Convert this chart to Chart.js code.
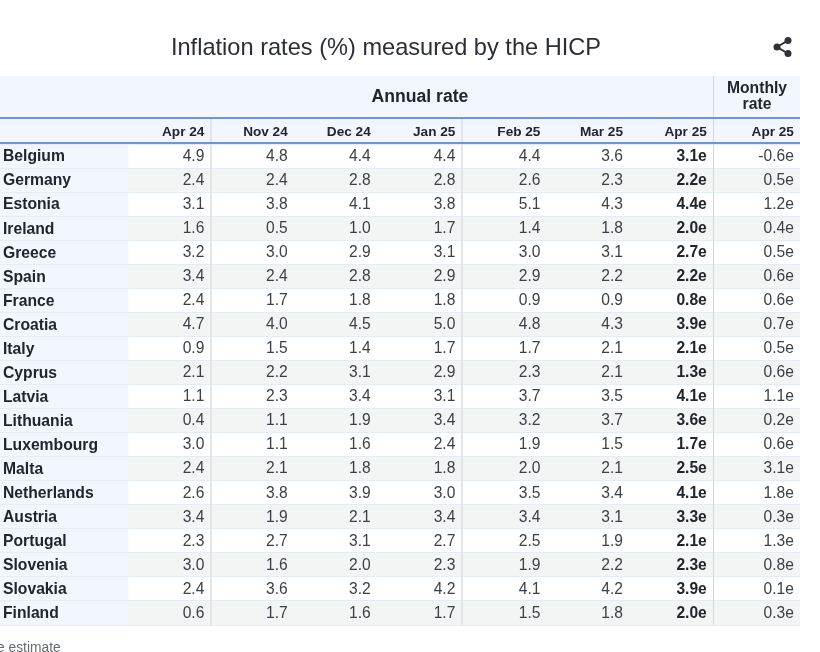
<!DOCTYPE html>
<html><head><meta charset="utf-8">
<style>html,body{margin:0;padding:0;background:#fff}canvas{display:block}</style>
<script src="https://cdn.jsdelivr.net/npm/chart.js@4/dist/chart.umd.min.js"></script>
</head><body><canvas id="c" width="820" height="652" style="width:820px;height:652px"></canvas>
<script>
const countries = ["Belgium","Germany","Estonia","Ireland","Greece","Spain","France","Croatia","Italy","Cyprus","Latvia","Lithuania","Luxembourg","Malta","Netherlands","Austria","Portugal","Slovenia","Slovakia","Finland"];
const columnLabels = ["Apr 24","Nov 24","Dec 24","Jan 25","Feb 25","Mar 25","Apr 25","Apr 25"];
const apr24 = [4.9,2.4,3.1,1.6,3.2,3.4,2.4,4.7,0.9,2.1,1.1,0.4,3.0,2.4,2.6,3.4,2.3,3.0,2.4,0.6];
const nov24 = [4.8,2.4,3.8,0.5,3.0,2.4,1.7,4.0,1.5,2.2,2.3,1.1,1.1,2.1,3.8,1.9,2.7,1.6,3.6,1.7];
const dec24 = [4.4,2.8,4.1,1.0,2.9,2.8,1.8,4.5,1.4,3.1,3.4,1.9,1.6,1.8,3.9,2.1,3.1,2.0,3.2,1.6];
const jan25 = [4.4,2.8,3.8,1.7,3.1,2.9,1.8,5.0,1.7,2.9,3.1,3.4,2.4,1.8,3.0,3.4,2.7,2.3,4.2,1.7];
const feb25 = [4.4,2.6,5.1,1.4,3.0,2.9,0.9,4.8,1.7,2.3,3.7,3.2,1.9,2.0,3.5,3.4,2.5,1.9,4.1,1.5];
const mar25 = [3.6,2.3,4.3,1.8,3.1,2.2,0.9,4.3,2.1,2.1,3.5,3.7,1.5,2.1,3.4,3.1,1.9,2.2,4.2,1.8];
const apr25 = [3.1,2.2,4.4,2.0,2.7,2.2,0.8,3.9,2.1,1.3,4.1,3.6,1.7,2.5,4.1,3.3,2.1,2.3,3.9,2.0];
const monthlyApr25 = [-0.6,0.5,1.2,0.4,0.5,0.6,0.6,0.7,0.5,0.6,1.1,0.2,0.6,3.1,1.8,0.3,1.3,0.8,0.1,0.3];
const columns = [apr24,nov24,dec24,jan25,feb25,mar25,apr25,monthlyApr25];
const estimatedColumns = [6,7];
const boldColumn = 6;

// Layout of the table, in units of the x scale (column right edges)
const slots = [0,1,1.995,3.01,4.03,5.02,6.025,7.07];
const X_MIN = -2.45, X_MAX = 7.143, STUB_END = -0.915;
const SANS = '"Liberation Sans", Arial, sans-serif';

const tablePlugin = {
  id:'table',
  afterLayout(chart){
    // title is centred over the table without the share button
    chart.titleBlock.left = 0; chart.titleBlock.right = 772;
  },
  beforeDatasetsDraw(chart){
    const {ctx,chartArea:a} = chart;
    ctx.save();
    ctx.fillStyle = '#f2f6fe';
    ctx.fillRect(a.left,76,a.right-a.left,a.top-76);
    ctx.restore();
  },
  afterDraw(chart){
    const {ctx,scales:{x,y},chartArea:a} = chart;
    ctx.save();
    // vertical separators
    const sep = (v,top,w,col)=>{ctx.fillStyle=col;ctx.fillRect(Math.round(x.getPixelForValue(v)),top,w,a.bottom-top);};
    sep(0.07,119,2,'#e3e5e8');
    sep(3.08,119,2,'#e3e5e8');
    sep(6.1,76,1,'#d3d6da');
    // blue header rules
    ctx.fillStyle='#7093dc';
    ctx.fillRect(a.left,117,a.right-a.left,2);
    ctx.fillRect(a.left,142,a.right-a.left,2);
    // cells
    ctx.textBaseline='middle'; ctx.textAlign='right';
    columns.forEach((col,c)=>{
      ctx.font=(c===boldColumn?'bold ':'')+'15.6px '+SANS;
      ctx.fillStyle=c===boldColumn?'#22252e':'#3c4048';
      col.forEach((v,r)=>{
        const txt=v.toFixed(1)+(estimatedColumns.includes(c)?'e':'');
        ctx.fillText(txt,x.getPixelForValue(slots[c]),y.getPixelForValue(r)+0.5);
      });
    });
    // group headers
    ctx.textAlign='center'; ctx.fillStyle='#22252e';
    ctx.font='bold 17.6px '+SANS;
    ctx.fillText('Annual rate',420,97);
    ctx.font='bold 15.7px '+SANS;
    ctx.fillText('Monthly',757,88.5);
    ctx.fillText('rate',757,104.5);
    // footnote
    ctx.textAlign='left'; ctx.fillStyle='#666a70'; ctx.font='13.8px '+SANS;
    ctx.fillText('e estimate',-3,648);
    // share icon
    ctx.strokeStyle='#2f3238'; ctx.fillStyle='#2f3238'; ctx.lineWidth=2;
    const pts=[[788,40.5],[777,47],[788,53.5]];
    ctx.beginPath();ctx.moveTo(...pts[0]);ctx.lineTo(...pts[1]);ctx.lineTo(...pts[2]);ctx.stroke();
    pts.forEach(p=>{ctx.beginPath();ctx.arc(p[0],p[1],3.5,0,Math.PI*2);ctx.fill();});
    ctx.restore();
  }
};

new Chart(document.getElementById('c'),{
  type:'bar',
  plugins:[tablePlugin],
  data:{labels:countries,datasets:[
    {label:'Country',data:countries.map(()=>[X_MIN,STUB_END]),backgroundColor:'#f2f6fe'},
    {label:'Rows',data:countries.map(()=>[STUB_END,X_MAX]),backgroundColor:countries.map((_,i)=>i%2?'#f3f5f5':'#ffffff')}
  ]},
  options:{
    indexAxis:'y',responsive:false,animation:false,devicePixelRatio:1,
    layout:{padding:{left:0,right:20,top:0,bottom:27}},
    datasets:{bar:{grouped:false,barPercentage:1,categoryPercentage:1,borderWidth:0}},
    plugins:{
      legend:{display:false},tooltip:{enabled:false},
      title:{display:true,text:'Inflation rates (%) measured by the HICP',color:'#2b2e36',
        font:{family:SANS,size:23.6,weight:'normal',lineHeight:1.2},padding:{top:34,bottom:13.7}}
    },
    scales:{
      x:{type:'linear',position:'top',min:X_MIN,max:X_MAX,
        grid:{display:false,drawTicks:false},border:{display:false},
        afterBuildTicks(s){s.ticks=slots.map(v=>({value:v}));},
        afterFit(s){s.height=68;},
        ticks:{autoSkip:false,maxRotation:0,minRotation:0,align:'end',padding:4,z:2,color:'#22252e',
          font:{family:SANS,size:13.6,weight:'bold'},
          callback(v,i){return columnLabels[i];}}
      },
      y:{type:'category',position:'left',
        grid:{color:'#e6ebf8',lineWidth:1,drawTicks:false,z:1,offset:true},border:{display:false},
        afterFit(s){s.width=0;},
        ticks:{mirror:true,padding:3,z:2,labelOffset:1,color:'#22252e',autoSkip:false,
          font:{family:SANS,size:15.7,weight:'bold'}}
      }
    }
  }
});
</script></body></html>
